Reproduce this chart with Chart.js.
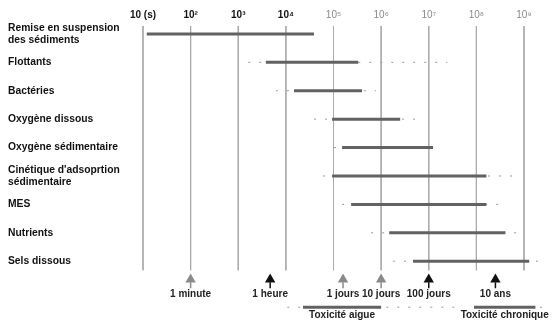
<!DOCTYPE html>
<html>
<head>
<meta charset="utf-8">
<script src="https://cdn.jsdelivr.net/npm/chart.js@4"></script>
<style>
  html, body { margin: 0; padding: 0; background: #fff; }
</style>
</head>
<body>
<canvas id="chart" width="554" height="320"></canvas>
<script>
// === DATA (times given as powers of ten, in seconds) ===
const decades = [1, 2, 3, 4, 5, 6, 7, 8, 9];
const tickLabels = ["10 (s)", "10²", "10³", "10⁴", "10⁵", "10⁶", "10⁷", "10⁸", "10⁹"];

const processes = [
  ["Remise en suspension", "des sédiments"],
  "Flottants",
  "Bactéries",
  "Oxygène dissous",
  "Oxygène sédimentaire",
  ["Cinétique d'adsoprtion", "sédimentaire"],
  "MES",
  "Nutrients",
  "Sels dissous",
];
const solidFrom = [1.08, 3.58, 4.17, 4.97, 5.18, 4.97, 5.37, 6.17, 6.67];
const solidTo   = [4.59, 5.52, 5.60, 6.40, 7.09, 8.21, 8.21, 8.61, 9.11];
const dotFrom   = [1.08, 3.21, 3.79, 4.59, 5.01, 4.78, 5.18, 5.79, 6.25];
const dotTo     = [4.59, 7.39, 5.89, 6.74, 7.09, 8.82, 8.50, 8.84, 9.34];

const markers = ["1 minute", "1 heure", "1 jours", "10 jours", "100 jours", "10 ans"];
const markerAt = [2.0, 3.67, 5.2, 6.0, 7.0, 8.4];
const markerDark = [false, true, false, false, true, true];

const toxLabels = ["Toxicité aigue", "Toxicité chronique"];
const toxFrom = [4.36, 7.95];
const toxTo = [6.0, 9.24];
const toxDotFrom = [4.03, 7.95];
const toxDotTo = [7.72, 9.45];

// === LAYOUT (rows below the last process, in y-axis units) ===
const GRID_TOP = -0.28;
const GRID_BOTTOM = 8.32;
const ARROW_Y = 8.64;
const STEM_TOP = 8.74;
const STEM_BOTTOM = 8.95;
const MARKER_TEXT_Y = 9.18;
const TOX_Y = 9.62;
const TOX_TEXT_Y = 9.9;

const FONT = '"Liberation Sans", Arial, sans-serif';
const BAR = "#626262";
const DOT = "#9a9a9a";
const GRID = "#ababab";
const GRAY_ARROW = "#8a8a8a";
const DARK = "#111";

// higher order = drawn further below
function segment(from, to, y, color, width, dash, order) {
  return {
    data: [{ x: 10 ** from, y }, { x: 10 ** to, y }],
    borderColor: color,
    borderWidth: width,
    borderDash: dash || [],
    pointRadius: 0,
    clip: false,
    order,
  };
}

const datasets = [];
decades.forEach((e) => {
  datasets.push({
    data: [{ x: 10 ** e, y: GRID_TOP }, { x: 10 ** e, y: GRID_BOTTOM }],
    borderColor: GRID, borderWidth: 1, pointRadius: 0, clip: false, order: 3,
  });
});
processes.forEach((p, i) => {
  datasets.push(segment(dotFrom[i], dotTo[i], i, DOT, 1, [2, 9], 2));
  datasets.push(segment(solidFrom[i], solidTo[i], i, BAR, 3, null, 1));
});
toxLabels.forEach((t, i) => {
  datasets.push(segment(toxDotFrom[i], toxDotTo[i], TOX_Y, DOT, 1, [2, 9], 2));
  datasets.push(segment(toxFrom[i], toxTo[i], TOX_Y, BAR, 3, null, 1));
});
markers.forEach((m, i) => {
  const c = markerDark[i] ? DARK : GRAY_ARROW;
  const x = 10 ** markerAt[i];
  datasets.push({
    data: [{ x, y: STEM_TOP }, { x, y: STEM_BOTTOM }],
    borderColor: c, borderWidth: 1.5, pointRadius: 0, clip: false, order: 0,
  });
  datasets.push({
    data: [{ x, y: ARROW_Y }],
    showLine: false, pointStyle: "triangle", pointRadius: 6,
    pointBackgroundColor: c, pointBorderColor: c, pointBorderWidth: 0, clip: false, order: 0,
  });
});

// texts under the arrows and the toxicity bars
const bottomText = {
  id: "bottomText",
  afterDatasetsDraw(chart) {
    const { ctx, scales: { x, y } } = chart;
    ctx.save();
    ctx.font = "bold 10px " + FONT;
    ctx.fillStyle = "#222";
    ctx.textAlign = "center";
    ctx.textBaseline = "middle";
    markers.forEach((m, i) => {
      ctx.fillText(m, x.getPixelForValue(10 ** markerAt[i]), y.getPixelForValue(MARKER_TEXT_Y));
    });
    toxLabels.forEach((t, i) => {
      const mid = (x.getPixelForValue(10 ** toxFrom[i]) + x.getPixelForValue(10 ** toxTo[i])) / 2;
      ctx.fillText(t, mid, y.getPixelForValue(TOX_TEXT_Y));
    });
    ctx.restore();
  },
};

new Chart(document.getElementById("chart"), {
  type: "line",
  data: { datasets },
  plugins: [bottomText],
  options: {
    responsive: false,
    animation: false,
    layout: { autoPadding: false, padding: { top: 4, left: 8, right: 30, bottom: 0 } },
    plugins: { legend: { display: false }, tooltip: { enabled: false } },
    scales: {
      x: {
        type: "logarithmic",
        position: "top",
        min: 10 ** decades[0],
        max: 10 ** decades[decades.length - 1],
        afterBuildTicks: (s) => { s.ticks = decades.map((e) => ({ value: 10 ** e })); },
        grid: { display: false, drawTicks: false },
        border: { display: false },
        ticks: {
          padding: 5,
          autoSkip: false,
          maxRotation: 0,
          callback: (v, i) => tickLabels[i],
          color: (c) => (c.index < 4 ? DARK : "#8a8a8a"),
          font: (c) => ({ family: FONT, size: 10, weight: c.index < 4 ? "bold" : "normal" }),
        },
      },
      y: {
        type: "linear",
        reverse: true,
        min: GRID_TOP,
        max: 10.07,
        afterBuildTicks: (s) => { s.ticks = processes.map((p, i) => ({ value: i })); },
        afterFit: (s) => {
          s.width = 135;
          s.paddingTop = 0;
          s.paddingBottom = 0;
        },
        grid: { display: false },
        border: { display: false },
        ticks: {
          crossAlign: "far",
          autoSkip: false,
          callback: (v, i) => processes[i],
          color: DARK,
          font: { family: FONT, size: 10.3, weight: "bold" },
        },
      },
    },
  },
});
</script>
</body>
</html>
